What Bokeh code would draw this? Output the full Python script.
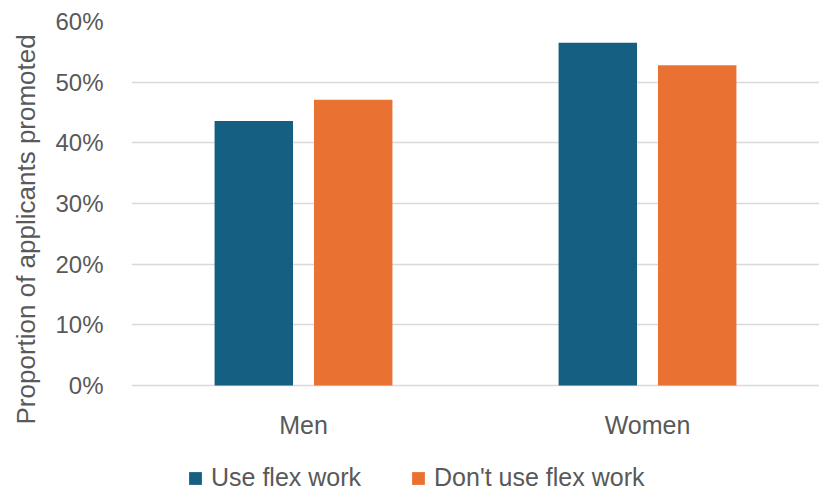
from bokeh.plotting import figure
from bokeh.models import (ColumnDataSource, FactorRange, Range1d, FixedTicker,
                          NumeralTickFormatter, Legend, LegendItem, Title)
from bokeh.core.properties import value
from bokeh.transform import dodge
from bokeh.embed import file_html
from bokeh.resources import INLINE

categories = ["Men", "Women"]
use_flex = [0.436, 0.565]
no_flex = [0.471, 0.528]
series_names = ["Use flex work", "Don't use flex work"]
y_ticks = [0.0, 0.1, 0.2, 0.3, 0.4, 0.5, 0.6]
y_title = "Proportion of applicants promoted"

BLUE = "#156082"
ORANGE = "#E97132"
TEXT = "#595959"
FONT = "Liberation Sans"

source = ColumnDataSource(dict(cat=categories, use=use_flex, no=no_flex,
                               base=[0.0] * len(categories)))

# frame runs to the bottom of the page; the area below 0 holds category labels and legend
p = figure(width=819, height=493, x_range=FactorRange(factors=categories, range_padding=0),
           y_range=Range1d(-0.178, 0.6), output_backend="svg", toolbar_location=None,
           min_border_left=127, min_border_right=0, min_border_top=21, min_border_bottom=0)
p.outline_line_color = None
p.background_fill_color = "white"
p.border_fill_color = "white"
p.xaxis.visible = False

r1 = p.vbar(x=dodge("cat", -0.1445, range=p.x_range), top="use", width=0.228,
            source=source, fill_color=BLUE, line_color=None)
r2 = p.vbar(x=dodge("cat", 0.1445, range=p.x_range), top="no", width=0.228,
            source=source, fill_color=ORANGE, line_color=None)

# category labels under the zero line
p.text(x="cat", y="base", text="cat", source=source, y_offset=39,
       text_align="center", text_baseline="middle",
       text_font=value(FONT), text_font_size="25px", text_color=TEXT)

# y axis
ya = p.yaxis[0]
ya.ticker = FixedTicker(ticks=y_ticks)
ya.formatter = NumeralTickFormatter(format="0%")
ya.axis_line_color = None
ya.major_tick_line_color = None
ya.minor_tick_line_color = None
ya.major_label_standoff = 22
ya.major_label_text_font = FONT
ya.major_label_text_font_size = "24px"
ya.major_label_text_color = TEXT

# vertical axis title (as a rotated title in the left panel)
t = Title(text=y_title, align="left", offset=69, standoff=20, vertical_align="top",
          text_font=FONT, text_font_size="26px", text_font_style="normal",
          text_color=TEXT)
p.add_layout(t, "left")

p.xgrid.grid_line_color = None
p.ygrid.grid_line_color = "#d9d9d9"
p.ygrid.grid_line_width = 1.5
p.ygrid.ticker = FixedTicker(ticks=y_ticks)

legend = Legend(items=[LegendItem(label=series_names[0], renderers=[r1]),
                       LegendItem(label=series_names[1], renderers=[r2])],
                orientation="horizontal", location=(56, 1),
                label_text_font=FONT, label_text_font_size="25px",
                label_text_color=TEXT, glyph_width=16, glyph_height=16,
                label_standoff=8, spacing=49, padding=0, margin=0,
                border_line_color=None, background_fill_alpha=0)
p.add_layout(legend, "center")

open("out.html", "w").write(file_html(p, INLINE))
